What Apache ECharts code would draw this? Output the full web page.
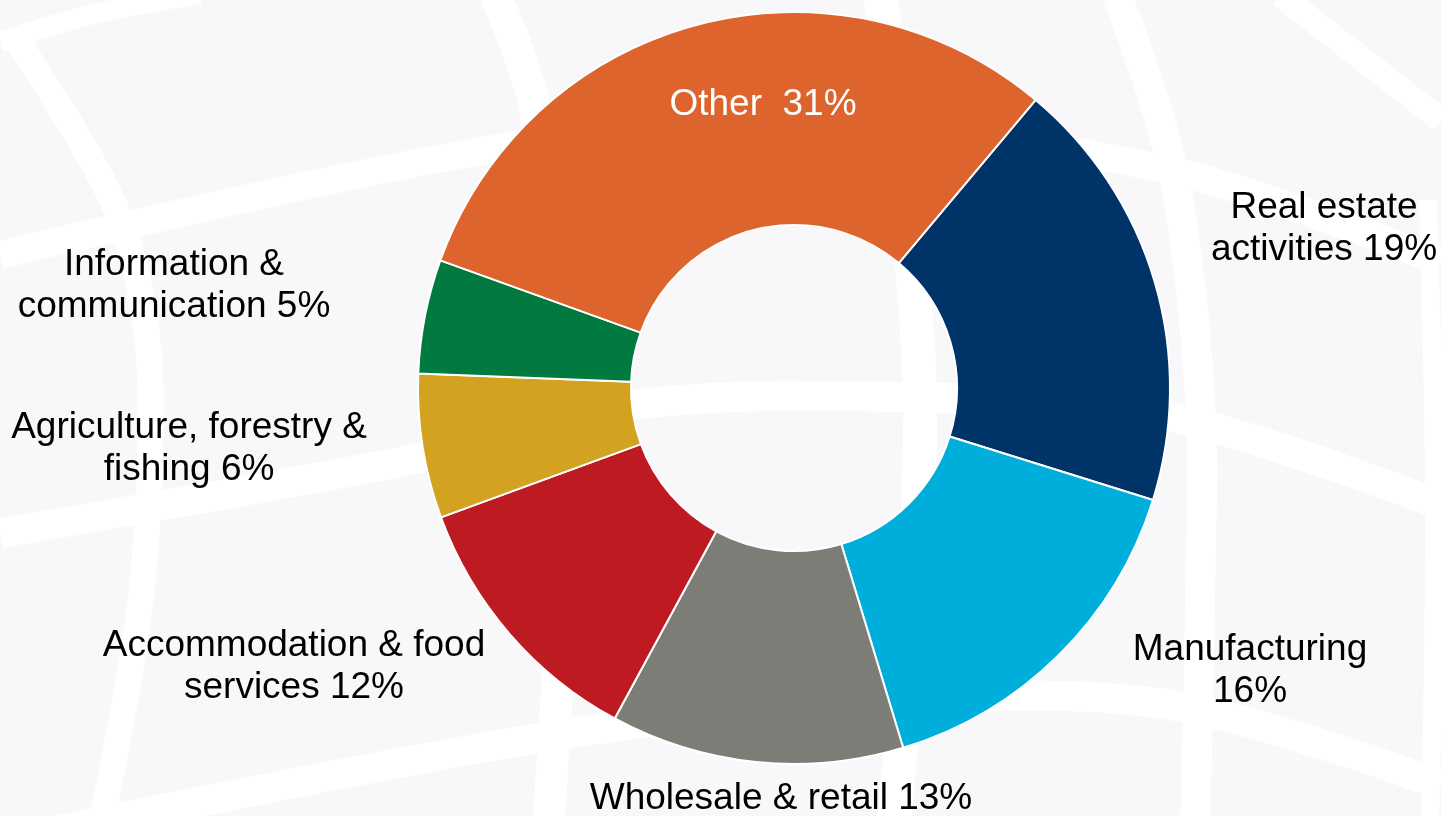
<!DOCTYPE html>
<html>
<head>
<meta charset="utf-8">
<title>Employment by sector</title>
<script src="https://cdn.jsdelivr.net/npm/echarts@6/dist/echarts.min.js"></script>
<style>
  html, body { margin: 0; padding: 0; background: #f8f8fa; }
  #chart { width: 1441px; height: 816px; }
</style>
</head>
<body>
<div id="chart"></div>
<script>
// sectors, clockwise from the top-right
const sectors = ['Real estate activities', 'Manufacturing', 'Wholesale & retail',
  'Accommodation & food services', 'Agriculture, forestry & fishing',
  'Information & communication', 'Other']
// share in %
const shares = [18.7, 15.5, 12.6, 11.5, 6.2, 4.9, 30.6]
// label text as printed on the chart
const labels = ['Real estate\nactivities 19%', 'Manufacturing\n16%', 'Wholesale & retail 13%',
  'Accommodation & food\nservices 12%', 'Agriculture, forestry &\nfishing 6%',
  'Information &\ncommunication 5%', 'Other  31%']
const colors = ['#003468', '#00AEDC', '#7D7D78', '#BD1A22', '#D2A220', '#007A3F', '#DD642C']

// where each label block is centred
const labelPos = [[1324, 229], [1250, 671], [781, 799], [294, 667], [189, 449], [174, 286], [763, 105]]

const FONT = '"Liberation Sans", Arial, Helvetica, sans-serif'

const chart = echarts.init(document.getElementById('chart'))

// faint white globe lines in the background
const band = (pts, w) => ({
  type: 'polyline',
  silent: true,
  z: -10,
  shape: { points: pts, smooth: 0.35 },
  style: { stroke: '#ffffff', lineWidth: w, fill: null },
})

const option = {
  backgroundColor: '#f8f8fa',
  animation: false,
  graphic: {
    elements: [
      band([[0, 42], [90, 15], [200, -6]], 20),
      band([[18, 42], [112, 200], [145, 320], [150, 460], [138, 620], [100, 830]], 26),
      band([[0, 255], [500, 148], [795, 125], [1160, 168], [1441, 262]], 28),
      band([[0, 533], [420, 458], [640, 404], [950, 398], [1160, 414], [1441, 505]], 30),
      band([[60, 830], [528, 740], [795, 708], [1150, 702], [1441, 785]], 30),
      band([[1117, -5], [1172, 167], [1200, 400], [1200, 600], [1195, 830]], 30),
      band([[880, -5], [920, 400], [893, 830]], 34),
      band([[495, -5], [535, 110], [565, 420], [548, 830]], 32),
      band([[1280, -5], [1441, 120]], 24),
      band([[1428, 200], [1434, 500], [1430, 830]], 18),
    ],
  },
  series: [
    {
      type: 'pie',
      center: [794, 388],
      radius: [163, 376],
      startAngle: 50,
      clockwise: true,
      avoidLabelOverlap: false,
      silent: true,
      itemStyle: { borderColor: '#ffffff', borderWidth: 2 },
      label: {
        show: true,
        position: 'outside',
        formatter: (p) => labels[p.dataIndex],
        fontFamily: FONT,
        fontSize: 37,
        lineHeight: 42,
        color: '#000000',
      },
      labelLine: { show: false },
      labelLayout: (params) => ({
        x: labelPos[params.dataIndex][0],
        y: labelPos[params.dataIndex][1],
        align: 'center',
        verticalAlign: 'middle',
      }),
      data: sectors.map((name, i) => ({
        name: name,
        value: shares[i],
        itemStyle: { color: colors[i] },
        label: name === 'Other' ? { color: '#ffffff' } : undefined,
      })),
    },
  ],
}

chart.setOption(option)
</script>
</body>
</html>
